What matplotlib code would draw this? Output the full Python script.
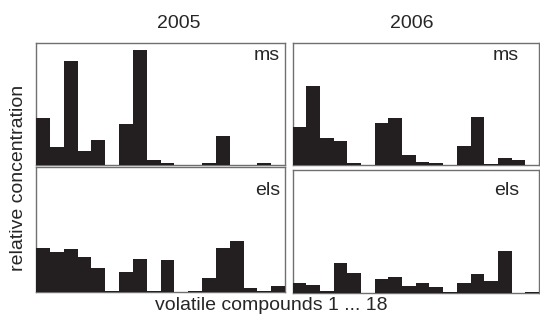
import matplotlib
matplotlib.use("Agg")
import matplotlib.pyplot as plt
import numpy as np

plt.rcParams["font.family"] = ["Liberation Sans", "DejaVu Sans"]

# relative concentrations of the 18 volatile compounds
compounds = np.arange(18)
ms_2005 = [0.38, 0.14, 0.845, 0.11, 0.20, 0, 0.33, 0.94, 0.04,
           0.01, 0, 0, 0.01, 0.23, 0, 0, 0.01, 0]
ms_2006 = [0.31, 0.64, 0.22, 0.19, 0.01, 0, 0.34, 0.38, 0.08,
           0.02, 0.01, 0, 0.15, 0.39, 0.005, 0.05, 0.04, 0]
els_2005 = [0.35, 0.32, 0.34, 0.28, 0.19, 0.005, 0.16, 0.26, 0.005,
            0.25, 0, 0.005, 0.105, 0.35, 0.405, 0.03, 0.005, 0.045]
els_2006 = [0.085, 0.065, 0.015, 0.24, 0.16, 0, 0.11, 0.13, 0.06,
            0.085, 0.045, 0.01, 0.085, 0.15, 0.1, 0.34, 0, 0.01]

years = ["2005", "2006"]
W, H = 540, 321
bar_color = "#231f20"
frame_color = "#707070"
text_color = "#262626"
fs = 14

fig = plt.figure(figsize=(W / 100, H / 100), dpi=100)


def px_rect(x0, y0, x1, y1):
    # pixel box (top-left origin) -> figure fraction rect
    return [x0 / W, 1 - y1 / H, (x1 - x0) / W, (y1 - y0) / H]


panels = [
    (ms_2005, px_rect(36, 42.5, 285, 164.5), "ms", 280, 60),
    (ms_2006, px_rect(292.5, 42.5, 539, 164.5), "ms", 519, 60),
    (els_2005, px_rect(36, 167, 285, 291.5), "els", 280, 195),
    (els_2006, px_rect(292.5, 169.5, 539, 293), "els", 519, 195),
]

for values, rect, label, lx, ly in panels:
    ax = fig.add_axes(rect)
    ax.bar(compounds, values, width=1.0, align="edge", color=bar_color,
           edgecolor="none", zorder=3)
    ax.set_xlim(0, 18)
    ax.set_ylim(0, 1)
    ax.set_xticks([])
    ax.set_yticks([])
    for sp in ax.spines.values():
        sp.set_color(frame_color)
        sp.set_linewidth(1.0)
    fig.text(lx / W, 1 - ly / H, label, ha="right", va="baseline",
             fontsize=fs, color=text_color)

fig.text(179 / W, 1 - 28 / H, years[0], ha="center", va="baseline",
         fontsize=fs, color=text_color)
fig.text(412 / W, 1 - 28 / H, years[1], ha="center", va="baseline",
         fontsize=fs, color=text_color)
fig.text(271 / W, 1 - 310 / H, "volatile compounds 1 ... 18", ha="center",
         va="baseline", fontsize=fs, color=text_color)
fig.text(19 / W, 1 - 178 / H, "relative concentration", rotation=90,
         ha="center", va="center", fontsize=fs, color=text_color)

fig.savefig("out.png", dpi=100)
